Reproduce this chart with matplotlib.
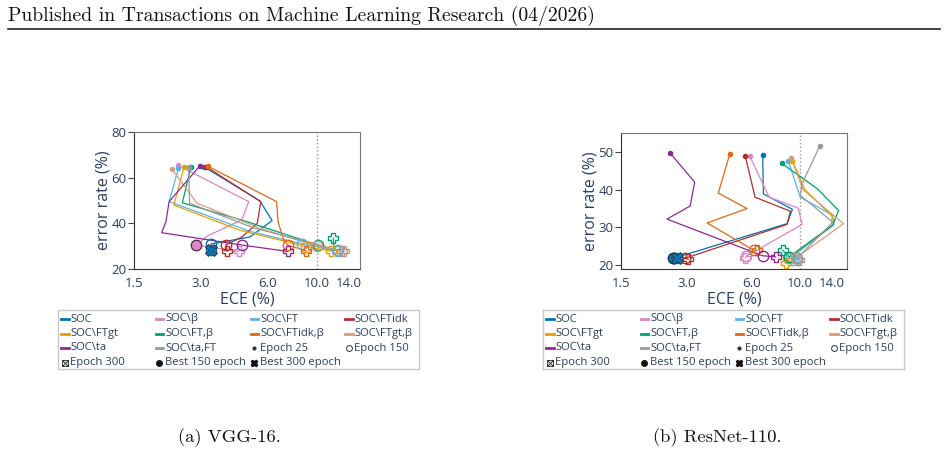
import matplotlib
matplotlib.use('Agg')
import matplotlib.pyplot as plt
from matplotlib.lines import Line2D
from matplotlib.patches import Rectangle
from matplotlib.path import Path
from matplotlib.ticker import NullLocator

# series names and colours
series = ['SOC', 'SOC\\β', 'SOC\\FT', 'SOC\\FTidk', 'SOC\\FTgt',
          'SOC\\FT,β', 'SOC\\FTidk,β', 'SOC\\FTgt,β', 'SOC\\ta', 'SOC\\ta,FT']
colors = ['#0173B2', '#DD85C8', '#56B4E9', '#B0302E', '#E69F00',
          '#029E73', '#E0671A', '#D4A07C', '#8E2A8E', '#9A9A9A']

# VGG-16 trajectories (first = epoch 25, i150 = epoch 150, last = epoch 300)
vgg_ece = {
    'SOC':          [3.10, 5.55, 6.30, 5.00, 3.34, 3.34],
    'SOC\\β':       [2.36, 4.94, 4.60, 3.22, 2.86, 4.45],
    'SOC\\FT':      [2.38, 2.16, 5.00, 8.60, 12.3],
    'SOC\\FTidk':   [3.17, 5.60, 5.40, 4.60, 3.89, 3.95],
    'SOC\\FTgt':    [2.52, 2.27, 4.50, 9.00, 11.6],
    'SOC\\FT,β':    [2.71, 2.48, 4.86, 10.2, 12.0, 11.9],
    'SOC\\FTidk,β': [3.22, 6.60, 6.70, 7.10, 7.40, 9.00],
    'SOC\\FTgt,β':  [2.22, 2.89, 5.50, 10.0, 13.3],
    'SOC\\ta':      [2.97, 2.16, 2.09, 2.00, 4.60, 7.40],
    'SOC\\ta,FT':   [2.65, 2.67, 5.20, 12.5, 13.0],
}
vgg_err = {
    'SOC':          [64.8, 49.8, 41.2, 34.0, 31.0, 28.4],
    'SOC\\β':       [65.5, 49.5, 41.5, 34.5, 30.4, 27.7],
    'SOC\\FT':      [64.1, 49.5, 36.5, 31.0, 28.0],
    'SOC\\FTidk':   [64.8, 49.5, 40.0, 34.0, 30.5, 27.9],
    'SOC\\FTgt':    [64.5, 48.0, 37.0, 29.8, 27.9],
    'SOC\\FT,β':    [64.8, 49.0, 40.7, 30.4, 28.0, 33.4],
    'SOC\\FTidk,β': [65.1, 49.5, 40.7, 32.7, 30.5, 27.9],
    'SOC\\FTgt,β':  [63.8, 48.8, 38.0, 30.0, 27.7],
    'SOC\\ta':      [65.1, 49.5, 40.7, 35.9, 30.5, 27.7],
    'SOC\\ta,FT':   [64.5, 48.8, 38.0, 28.3, 27.7],
}
vgg_i150 = [4, 4, 3, 4, 3, 3, 4, 3, 4, 3]
vgg_best150 = 'SOC\\β'
vgg_best300 = 'SOC'

# ResNet-110 trajectories
res_ece = {
    'SOC':          [6.72, 6.77, 9.20, 8.70, 2.60, 2.70],
    'SOC\\β':       [5.87, 7.20, 9.80, 10.2, 5.65, 5.60],
    'SOC\\FT':      [8.80, 10.0, 14.1, 14.3, 9.10, 9.30],
    'SOC\\FTidk':   [5.58, 6.20, 9.00, 8.70, 2.94, 3.06],
    'SOC\\FTgt':    [9.20, 10.5, 14.0, 14.0, 8.80, 8.60],
    'SOC\\FT,β':    [8.20, 12.0, 15.0, 14.1, 8.90, 8.30],
    'SOC\\FTidk,β': [4.74, 4.20, 5.69, 3.73, 6.10, 6.30],
    'SOC\\FTgt,β':  [9.10, 10.3, 15.8, 9.60, 9.70],
    'SOC\\ta':      [2.53, 3.27, 3.12, 2.44, 6.73, 7.70],
    'SOC\\ta,FT':   [12.3, 10.2, 10.0, 14.1, 9.70, 9.90],
}
res_err = {
    'SOC':          [49.3, 38.9, 34.8, 31.0, 21.8, 21.8],
    'SOC\\β':       [48.8, 38.0, 35.1, 30.8, 22.4, 22.0],
    'SOC\\FT':      [47.7, 38.0, 33.2, 30.8, 22.0, 21.5],
    'SOC\\FTidk':   [49.0, 38.0, 34.3, 30.8, 21.8, 21.6],
    'SOC\\FTgt':    [47.7, 40.0, 33.0, 30.5, 22.0, 20.5],
    'SOC\\FT,β':    [47.0, 40.2, 34.5, 30.6, 22.2, 24.0],
    'SOC\\FTidk,β': [49.4, 39.1, 35.0, 31.2, 24.0, 24.0],
    'SOC\\FTgt,β':  [48.3, 40.0, 31.0, 22.0, 21.5],
    'SOC\\ta':      [49.6, 42.0, 35.7, 32.2, 22.5, 22.2],
    'SOC\\ta,FT':   [51.6, 41.6, 38.5, 31.4, 21.9, 21.5],
}
res_i150 = [4, 4, 4, 4, 4, 4, 4, 3, 4, 4]
res_best150 = 'SOC'
res_best300 = 'SOC'

marker_labels = ['Epoch 25', 'Epoch 150', 'Epoch 300', 'Best 150 epoch', 'Best 300 epoch']

txt = '#2a3f5f'
plt.rcParams['font.family'] = ['Open Sans', 'DejaVu Sans']

W, H = 948, 454
fig = plt.figure(figsize=(W / 100, H / 100), dpi=100)


def fx(px):
    return px / W


def fy(py):
    return 1 - py / H


def panel(rect, ece, err, i150, best150, best300, ylim, yticks, xmax):
    ax = fig.add_axes(rect)
    for k, (name, c) in enumerate(zip(series, colors)):
        x, y = ece[name], err[name]
        ax.plot(x, y, color=c, lw=0.9, zorder=2)
        ax.plot(x[0], y[0], 'o', ms=3, color=c, zorder=3)
        j = i150[k]
        ax.plot(x[j], y[j], 'o', ms=7.5, mfc='none', mec=c, mew=1, zorder=3)
        ax.plot(x[-1], y[-1], 'P', ms=7.5, mfc='none', mec=c, mew=1, zorder=3)
    k = series.index(best150)
    ax.plot(ece[best150][i150[k]], err[best150][i150[k]], 'o', ms=7.5,
            color=colors[k], mec='#333', mew=0.8, zorder=5)
    k = series.index(best300)
    ax.plot(ece[best300][-1], err[best300][-1], 'X', ms=8.5,
            color=colors[k], mec='#333', mew=0.6, zorder=5)
    ax.axvline(10, color='#999999', ls=':', lw=1, zorder=1)
    ax.set_xscale('log')
    ax.set_xlim(1.5, xmax)
    ax.set_ylim(*ylim)
    ax.set_xticks([1.5, 3, 6, 10, 14])
    ax.set_xticklabels(['1.5', '3.0', '6.0', '10.0', '14.0'])
    ax.xaxis.set_minor_locator(NullLocator())
    ax.set_yticks(yticks)
    ax.tick_params(axis='x', length=0, pad=6, labelsize=9.5, labelcolor=txt)
    ax.tick_params(axis='y', length=4, width=0.8, color='#444', pad=1.5,
                   labelsize=9.5, labelcolor=txt)
    for s in ['left', 'bottom']:
        ax.spines[s].set_color('#333')
    for s in ['top', 'right']:
        ax.spines[s].set_color('#777')
    ax.set_xlabel('ECE (%)', fontsize=11.5, color=txt, labelpad=1)
    ax.set_ylabel('error rate (%)', fontsize=11.5, color=txt, labelpad=0)
    return ax


panel([fx(134), fy(269), 226 / W, 137 / H],
      vgg_ece, vgg_err, vgg_i150, vgg_best150, vgg_best300,
      (20, 80), [20, 40, 60, 80], 15.7)
panel([fx(621), fy(269), 226 / W, 136 / H],
      res_ece, res_err, res_i150, res_best150, res_best300,
      (19, 55), [20, 30, 40, 50], 16.4)

# legend drawn by hand: plotly-style rows with equal column widths
box_x = Path([(-1, -1), (1, -1), (1, 1), (-1, 1), (-1, -1), (-1, -1), (1, 1), (-1, 1), (1, -1)],
             [Path.MOVETO, Path.LINETO, Path.LINETO, Path.LINETO, Path.CLOSEPOLY,
              Path.MOVETO, Path.LINETO, Path.MOVETO, Path.LINETO])
marker_styles = [
    dict(marker='o', ms=2, color='#333'),
    dict(marker='o', ms=4.2, mfc='none', mec='#333', mew=0.7),
    dict(marker=box_x, ms=4.2, mfc='none', mec='#333', mew=0.7),
    dict(marker='o', ms=4, color='#111'),
    dict(marker='X', ms=4.5, color='#111'),
]
row_y = [319, 333.5, 348, 362.5]
labels = series + marker_labels


def legend_box(x0):
    fig.add_artist(Rectangle((fx(x0), fy(369)), 361 / W, 59 / H,
                             transform=fig.transFigure, fill=False,
                             ec='#c8c8c8', lw=1))
    for i, lab in enumerate(labels):
        r, c = divmod(i, 4)
        hx = x0 + 3 + c * 94.8
        hy = row_y[r]
        if i < len(series):
            fig.add_artist(Line2D([fx(hx), fx(hx + 7.5)], [fy(hy), fy(hy)],
                                  color=colors[i], lw=2.0,
                                  transform=fig.transFigure))
            tx = hx + 9.5
        else:
            fig.add_artist(Line2D([fx(hx + 3.5)], [fy(hy)], ls='',
                                  transform=fig.transFigure,
                                  **marker_styles[i - len(series)]))
            tx = hx + 9
        fig.text(fx(tx), fy(hy), lab, fontsize=8.1, color=txt,
                 va='center', ha='left')


legend_box(58)
legend_box(543)

# page decorations
fig.text(fx(8), fy(16), 'Published in Transactions on Machine Learning Research (04/2026)',
         family='cmr10', fontsize=14.2, va='center', ha='left', color='#111')
fig.add_artist(Line2D([fx(8), fx(940)], [fy(29), fy(29)],
                      color='#222', lw=1.2, transform=fig.transFigure))
fig.text(fx(229), fy(438), '(a) VGG-16.', family='cmr10', fontsize=13.4,
         ha='center', va='center', color='#111')
fig.text(fx(717), fy(438), '(b) ResNet-110.', family='cmr10', fontsize=13.4,
         ha='center', va='center', color='#111')

fig.savefig('out.png', dpi=100)
